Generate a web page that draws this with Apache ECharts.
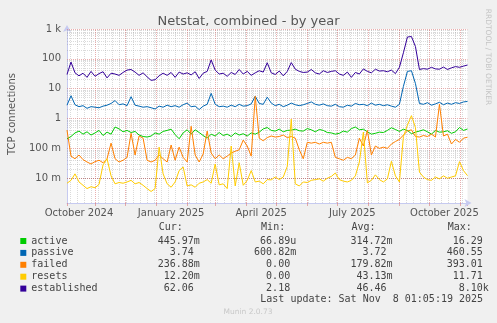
<!DOCTYPE html>
<html><head><meta charset="utf-8">
<script src="https://cdn.jsdelivr.net/npm/echarts@6/dist/echarts.min.js"></script>
<style>html,body{margin:0;padding:0;background:#f0f0f0}#c{width:497px;height:323px}</style>
</head><body><div id="c"></div>
<script>
// ---- data (one point every 4 days, from 2024-10-04 01:05 UTC to 2025-11-08 01:05 UTC) ----
const startTime = Date.UTC(2024, 9, 4, 1, 5);
const stepDays = 4;
const seriesNames = ['active', 'passive', 'failed', 'resets', 'established'];
const seriesColors = ['#00cc00', '#0066b3', '#ff8000', '#ffcc00', '#330099'];

const active = [0.21,0.25,0.33,0.38,0.30,0.36,0.28,0.33,0.40,0.27,0.35,0.30,0.52,0.45,0.36,0.40,0.34,0.37,0.28,0.25,
  0.24,0.26,0.33,0.30,0.37,0.40,0.44,0.29,0.21,0.33,0.42,0.30,0.42,0.34,0.27,0.22,0.30,0.26,0.34,
  0.27,0.30,0.25,0.33,0.28,0.31,0.26,0.33,0.30,0.35,0.45,0.50,0.40,0.38,0.44,0.36,0.40,0.41,0.44,0.39,
  0.38,0.46,0.42,0.36,0.43,0.40,0.34,0.33,0.30,0.32,0.38,0.35,0.46,0.52,0.42,0.44,0.36,0.30,0.32,0.35,
  0.34,0.40,0.49,0.43,0.37,0.44,0.40,0.31,0.35,0.38,0.42,0.36,0.30,0.40,0.35,0.36,0.39,0.32,0.36,0.50,0.40,0.446];

const passive = [2.8,5.8,2.9,2.5,2.7,2.2,2.5,2.4,2.3,2.6,2.8,3.2,4.0,2.9,3.1,2.7,5.4,2.8,2.6,2.4,
  2.5,2.3,2.1,2.6,2.4,2.8,2.5,2.7,2.4,2.9,3.3,2.5,2.6,2.0,2.6,3.0,7.0,3.0,2.5,
  2.6,2.4,2.8,2.5,3.0,2.6,2.7,3.1,5.6,3.2,3.0,5.2,3.3,2.7,3.0,2.5,2.8,3.3,2.9,2.7,
  2.9,3.2,3.6,3.0,2.8,3.1,2.7,2.6,3.0,2.5,2.4,2.8,2.6,3.2,2.9,3.0,2.7,3.3,2.8,3.0,
  2.7,2.9,2.6,2.4,3.0,12,38,40,15,3.2,3.0,3.4,2.8,3.1,3.5,2.9,3.3,3.0,3.4,3.2,3.6,3.74];

const failed = [0.41,0.055,0.045,0.06,0.042,0.035,0.03,0.036,0.04,0.033,0.045,0.15,0.045,0.035,0.04,0.05,0.32,0.06,0.26,0.22,
  0.04,0.035,0.04,0.06,0.045,0.035,0.13,0.04,0.11,0.05,0.035,0.55,0.06,0.035,0.065,0.38,0.07,0.045,0.06,
  0.045,0.055,0.07,0.08,0.09,0.19,0.12,0.055,5.6,0.22,0.18,0.23,0.26,0.24,0.25,0.28,0.23,0.25,0.22,0.09,
  0.045,0.16,0.15,0.16,0.14,0.16,0.15,0.16,0.05,0.045,0.04,0.05,0.045,0.06,0.22,0.12,0.40,0.06,0.12,0.10,
  0.11,0.10,0.14,0.17,0.20,0.28,0.38,0.42,0.25,0.24,0.27,0.25,0.30,0.24,3.0,0.26,0.30,0.14,0.20,0.16,0.22,0.237];

const resets = [0.0068,0.0085,0.014,0.0075,0.0058,0.0045,0.0052,0.0048,0.0062,0.028,0.045,0.012,0.0065,0.0072,0.0068,0.0075,0.0085,0.0065,0.0072,0.0058,
  0.0045,0.0036,0.0045,0.11,0.014,0.0065,0.005,0.0075,0.018,0.024,0.0055,0.006,0.005,0.0068,0.0075,0.009,0.0068,0.03,0.006,
  0.0065,0.0045,0.12,0.0055,0.033,0.0058,0.0085,0.018,0.0075,0.008,0.0065,0.009,0.0088,0.011,0.009,0.011,0.025,0.95,0.0065,0.0055,
  0.0075,0.0072,0.0085,0.009,0.0095,0.008,0.010,0.0115,0.015,0.009,0.008,0.0075,0.0085,0.012,0.035,0.35,0.007,0.0085,0.013,0.009,
  0.0075,0.0095,0.037,0.012,0.0075,0.25,0.6,1.25,0.5,0.016,0.011,0.009,0.0085,0.011,0.0095,0.012,0.010,0.011,0.012,0.036,0.018,0.0122];

const established = [30,78,34,27,33,24,38,26,32,37,23,33,31,28,35,42,44,36,28,34,
  25,19,20,27,33,28,35,24,36,31,34,29,37,22,33,38,92,42,31,
  33,26,35,30,44,31,38,28,34,40,36,74,34,30,39,27,38,75,45,38,
  35,36,44,34,31,40,35,38,40,31,28,36,24,35,31,46,38,34,45,39,
  40,37,42,32,52,160,540,560,260,44,47,45,52,46,45,53,44,50,55,52,57,62.06];

const curVals = ['445.97m', '3.74', '236.88m', '12.20m', '62.06'];
const minVals = ['66.89u', '600.82m', '0.00', '0.00', '2.18'];
const avgVals = ['314.72m', '3.72', '179.82m', '43.13m', '46.46'];
const maxVals = ['16.29', '460.55', '393.01', '11.71', '8.10k'];

const yTickValues = [0.01, 0.1, 1, 10, 100, 1000];
const yTickLabels = ['10 m', '100 m', '1', '10', '100', '1 k'];
const xLabelDates = ['2024-10-16', '2025-01-16', '2025-04-16', '2025-07-16', '2025-10-16'];
const xLabelTexts = ['October 2024', 'January 2025', 'April 2025', 'July 2025', 'October 2025'];

// ---- build ----
const DAY = 86400000;
const endTime = startTime + 400 * DAY;
const yMin = 0.00148, yMax = 1000;
const pairs = arr => arr.map((v, i) => [startTime + i * stepDays * DAY, v]);
const allData = [active, passive, failed, resets, established];

const monthStarts = [];
for (let y = 2024, m = 10; y < 2026; ) {
  const t = Date.UTC(y, m, 1);
  if (t > endTime) break;
  if (t > startTime) monthStarts.push(t);
  m++; if (m > 11) { m = 0; y++; }
}
const weekLines = [];
for (let t = Date.UTC(2024, 9, 7); t < endTime; t += 7 * DAY) weekLines.push(t);

const minorY = [];
for (let k = -3; k <= 2; k++) for (let m = 2; m <= 9; m++) {
  const v = m * Math.pow(10, k);
  if (v > yMin && v < yMax) minorY.push(v);
}
const MAJ = 'rgba(215,110,110,0.55)';
const MIN = 'rgba(150,150,150,0.35)';
const gridLines = [];
minorY.forEach(v => gridLines.push({yAxis: v, lineStyle: {color: MIN}}));
weekLines.forEach(t => gridLines.push({xAxis: t, lineStyle: {color: MIN}}));
yTickValues.forEach(v => gridLines.push({yAxis: v, lineStyle: {color: MAJ}}));
monthStarts.forEach(t => gridLines.push({xAxis: t, lineStyle: {color: MAJ}}));

const sans = 'DejaVu Sans';
const mono = 'DejaVu Sans Mono';
const xLabelLines = xLabelDates.map((d, i) => ({
  xAxis: Date.parse(d + 'T00:00:00Z'),
  label: {formatter: xLabelTexts[i]}
}));

const withUnit = s => /[a-z]$/i.test(s) ? s : s + ' ';
function legendLine(name) {
  const k = seriesNames.indexOf(name);
  let line = name;
  const cols = [[curVals, 28], [minVals, 44], [avgVals, 60], [maxVals, 76]];
  cols.forEach(([arr, end]) => { const s = withUnit(arr[k]); line = line.padEnd(end - s.length) + s; });
  return line;
}
const header = ''.padEnd(22) + 'Cur:'.padEnd(17) + 'Min:'.padEnd(15) + 'Avg:'.padEnd(16) + 'Max:';

const series = seriesNames.map((n, i) => ({
  name: n, type: 'line', data: pairs(allData[i]), showSymbol: false, symbol: 'none',
  lineStyle: {width: 1, color: seriesColors[i]}, itemStyle: {color: seriesColors[i]},
  animation: false, z: 3
}));
series.unshift({
  name: '_grid', type: 'line', data: [[startTime, 1]], showSymbol: false, symbol: 'none',
  lineStyle: {opacity: 0}, animation: false, silent: true,
  markLine: {z: 1, silent: true, symbol: 'none', animation: false, label: {show: false},
    lineStyle: {type: [1, 1], width: 1}, emphasis: {disabled: true}, data: gridLines}
});
series.unshift({
  name: '_xlabels', type: 'line', data: [[startTime, 1]], showSymbol: false, symbol: 'none',
  lineStyle: {opacity: 0}, animation: false, silent: true,
  markLine: {z: 1, silent: true, symbol: 'none', animation: false,
    lineStyle: {color: 'rgba(0,0,0,0)', width: 0.01, type: 'solid'},
    label: {show: true, position: 'start', distance: 5, fontFamily: sans, fontSize: 10, color: '#555'},
    emphasis: {disabled: true}, data: xLabelLines}
});

const chart = echarts.init(document.getElementById('c'));
chart.setOption({
  backgroundColor: '#f0f0f0',
  animation: false,
  title: {text: 'Netstat, combined - by year', left: 'center', top: 10,
    textStyle: {fontFamily: sans, fontSize: 13, fontWeight: 'normal', color: '#555'}},
  grid: {left: 67, right: 29.5, top: 29, bottom: 120, show: true, backgroundColor: '#ffffff', borderWidth: 0},
  xAxis: {
    type: 'time', min: startTime, max: endTime, splitNumber: 14,
    axisLine: {lineStyle: {color: '#c6caf0', width: 1}, symbol: ['none', 'arrow'], symbolSize: [6, 7], symbolOffset: [0, 4]},
    axisTick: {show: true, length: 3, lineStyle: {color: MAJ}},
    axisLabel: {show: false},
    splitLine: {show: false}
  },
  yAxis: {
    type: 'log', logBase: 10, min: yMin, max: yMax,
    axisLine: {show: true, lineStyle: {color: '#c6caf0', width: 1}, symbol: ['none', 'arrow'], symbolSize: [6, 7], symbolOffset: [0, 4]},
    axisTick: {show: false},
    axisLabel: {fontFamily: sans, fontSize: 10, color: '#555', margin: 6, showMinLabel: false,
      formatter: v => { for (let i = 0; i < yTickValues.length; i++) if (Math.abs(Math.log10(v) - Math.log10(yTickValues[i])) < 1e-6) return yTickLabels[i]; return ''; }},
    splitLine: {show: false}, minorSplitLine: {show: false}
  },
  legend: {
    orient: 'vertical', left: 15.3, top: 231, itemWidth: 6, itemHeight: 6, itemGap: 1.9,
    icon: 'rect', data: seriesNames, selectedMode: false,
    formatter: legendLine,
    textStyle: {fontFamily: mono, fontSize: 10, lineHeight: 10, color: '#444'}
  },
  graphic: [
    {type: 'text', x: 12, y: 114, rotation: Math.PI / 2,
      style: {text: 'TCP connections', font: '10px "DejaVu Sans"', fill: '#555', textAlign: 'center', textVerticalAlign: 'middle'}},
    {type: 'text', x: 488, y: 57, rotation: -Math.PI / 2,
      style: {text: 'RRDTOOL / TOBI OETIKER', font: '7.5px "DejaVu Sans"', fill: '#c4c4c4', textAlign: 'center', textVerticalAlign: 'middle'}},
    {type: 'text', x: 26.3, y: 227.3,
      style: {text: header, font: '10px "DejaVu Sans Mono"', fill: '#444', textAlign: 'left', textVerticalAlign: 'middle'}},
    {type: 'text', x: 26.3 + 39 * 6, y: 299.3,
      style: {text: 'Last update: Sat Nov  8 01:05:19 2025', font: '10px "DejaVu Sans Mono"', fill: '#444', textAlign: 'left', textVerticalAlign: 'middle'}},
    {type: 'text', x: 248, y: 312.5,
      style: {text: 'Munin 2.0.73', font: '7.5px "DejaVu Sans"', fill: '#c8c8c8', textAlign: 'center', textVerticalAlign: 'middle'}}
  ],
  series: series
});
</script></body></html>
